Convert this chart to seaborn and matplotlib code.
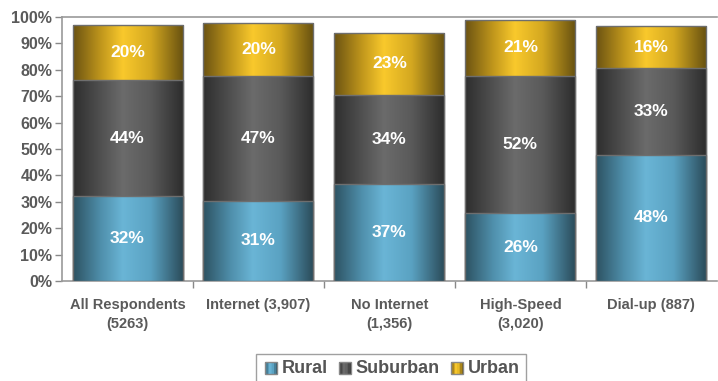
import numpy as np
import pandas as pd
import matplotlib
matplotlib.use("Agg")
import matplotlib.pyplot as plt
import seaborn as sns
from matplotlib.colors import LinearSegmentedColormap
from matplotlib.legend_handler import HandlerBase
from matplotlib.patches import Rectangle, Patch

categories = ["All Respondents\n(5263)", "Internet (3,907)", "No Internet\n(1,356)",
              "High-Speed\n(3,020)", "Dial-up (887)"]
series = ["Rural", "Suburban", "Urban"]
rural = [32.3, 30.4, 36.6, 25.6, 47.9]
suburban = [43.7, 47.4, 33.8, 52.2, 32.6]
urban = [20.9, 20.1, 23.7, 21.2, 16.2]
rural_lbl = [32, 31, 37, 26, 48]
suburban_lbl = [44, 47, 34, 52, 33]
urban_lbl = [20, 20, 23, 21, 16]
yticks = [0, 10, 20, 30, 40, 50, 60, 70, 80, 90, 100]

grad = {
    "Rural": ["#2d5262", "#4f8fab", "#6ab5d6", "#5aa2c2", "#2a4a58"],
    "Suburban": ["#2e2e2e", "#505050", "#6b6b6b", "#5a5a5a", "#2c2c2c"],
    "Urban": ["#6b5312", "#c0961c", "#f9c92c", "#d4a820", "#665010"],
}
stops = [0.0, 0.25, 0.45, 0.7, 1.0]
cmaps = {k: LinearSegmentedColormap.from_list(k, list(zip(stops, v))) for k, v in grad.items()}

sns.set_theme(style="white")
plt.rcParams["font.family"] = ["Liberation Sans", "DejaVu Sans"]

df = pd.DataFrame({"cat": categories, "Rural": rural, "Suburban": suburban, "Urban": urban})
df["cum_r"] = df["Rural"]
df["cum_s"] = df["Rural"] + df["Suburban"]
df["cum_u"] = df["cum_s"] + df["Urban"]

fig = plt.figure(figsize=(7.18, 3.81), dpi=100)
ax = fig.add_axes([0.0864, 0.2625, 0.912, 0.6929])

layers = [("Urban", "cum_u"), ("Suburban", "cum_s"), ("Rural", "cum_r")]
gimg = np.linspace(0, 1, 256).reshape(1, -1)
for i, (name, col) in enumerate(layers):
    n0 = len(ax.patches)
    sns.barplot(data=df, x="cat", y=col, order=categories, color=grad[name][2],
                width=0.84, ax=ax, edgecolor="#6e6e6e", linewidth=1.0)
    for p in ax.patches[n0:]:
        p.set_facecolor("none")
        p.set_zorder(3 + 2 * i + 1)
        x0, y0 = p.get_x(), p.get_y()
        w, h = p.get_width(), p.get_height()
        im = ax.imshow(gimg, cmap=cmaps[name], aspect="auto",
                       extent=[x0, x0 + w, y0, y0 + h], zorder=3 + 2 * i,
                       interpolation="bilinear")
        im.set_clip_path(p)

# value labels
bottoms = np.zeros(len(categories))
for vals, lbls in [(rural, rural_lbl), (suburban, suburban_lbl), (urban, urban_lbl)]:
    for j, (v, l) in enumerate(zip(vals, lbls)):
        ax.text(j, bottoms[j] + v / 2, f"{l}%", ha="center", va="center",
                color="white", fontsize=12.5, fontweight="bold", zorder=20)
    bottoms += np.array(vals)

ax.set_xlim(-0.5, 4.5)
ax.set_ylim(0, 100)
ax.set_yticks(yticks)
ax.set_yticklabels([f"{t}%" for t in yticks])
ax.set_xticks(range(len(categories)))
ax.set_xticklabels(categories, linespacing=1.5)
ax.set_xticks(np.arange(0.5, 4.5, 1.0), minor=True)
ax.tick_params(axis="x", which="major", length=0, pad=12, labelsize=10.5,
               labelcolor="#5a5a5a")
ax.tick_params(axis="x", which="minor", length=5, width=1, color="#888888",
               direction="out", bottom=True)
ax.tick_params(axis="y", length=5, width=1, color="#888888", direction="out",
               left=True, labelsize=11.5, labelcolor="#5a5a5a", pad=2)
for t in ax.get_xticklabels() + ax.get_yticklabels():
    t.set_fontweight("bold")
ax.set_xlabel("")
ax.set_ylabel("")
for s in ["left", "top", "bottom"]:
    ax.spines[s].set_visible(True)
    ax.spines[s].set_color("#999999")
    ax.spines[s].set_linewidth(1.2)
ax.spines["right"].set_visible(False)
ax.grid(False)


class GradHandler(HandlerBase):
    def create_artists(self, legend, orig_handle, xdescent, ydescent, width, height,
                       fontsize, trans):
        name = orig_handle.get_label()
        cm = cmaps[name]
        arts = []
        n = 8
        size = height * 1.0
        x0 = xdescent + (width - size) / 2
        for k in range(n):
            r = Rectangle((x0 + k * size / n, -ydescent - 1), size / n, size,
                          facecolor=cm((k + 0.5) / n), edgecolor="none", transform=trans)
            arts.append(r)
        arts.append(Rectangle((x0, -ydescent - 1), size, size, facecolor="none",
                              edgecolor="#888888", lw=1, transform=trans))
        return arts


handles = [Patch(label=s) for s in series]
leg = fig.legend(handles=handles, labels=series, loc="center",
                 bbox_to_anchor=(0.545, 0.033), ncol=3, frameon=True,
                 handler_map={Patch: GradHandler()}, handlelength=0.9,
                 handletextpad=0.15, columnspacing=0.5, borderpad=0.35,
                 fancybox=False, prop={"size": 13, "weight": "bold"})
leg.get_frame().set_edgecolor("#888888")
leg.get_frame().set_linewidth(1.0)
for t in leg.get_texts():
    t.set_color("#555555")

fig.savefig("out.png", dpi=100)
